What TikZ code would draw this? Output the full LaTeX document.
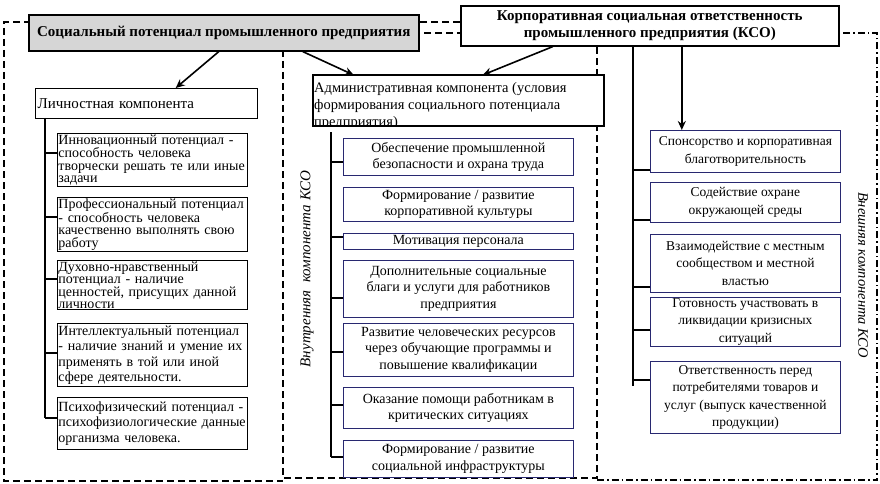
\documentclass[tikz,border=0pt]{standalone}
\usepackage{fontspec}
\setmainfont{Liberation Serif}
\usetikzlibrary{arrows.meta}
\definecolor{titlegray}{RGB}{214,214,214}
\definecolor{itemblue}{RGB}{40,40,112}
\newcommand\fsz[2]{\fontsize{#1}{#2}\selectfont}
\tikzset{
	titlebox/.style={draw,line width=1.6pt,anchor=north west,inner sep=1pt,align=center,font=\fsz{15}{16.5}\bfseries},
	compbox/.style={draw,line width=1.4pt,fill=white,anchor=north west,inner sep=2pt},
	leftitem/.style={draw,line width=.9pt,fill=white,anchor=north west,inner sep=1pt,text width=188,align=left,font=\fsz{14}{12.5}},
	initem/.style={draw=itemblue,line width=.8pt,fill=white,anchor=north west,inner sep=1pt,align=center,minimum width=230,font=\fsz{14}{16.5}},
	exitem/.style={initem,minimum width=190,font=\fsz{13.5}{17.5}},
	branch/.style={line width=1.4pt},
	arr/.style={line width=1.6pt,-{Stealth[length=9pt,width=8pt]}},
	framedash/.style={line width=1.3pt,dash pattern=on 7pt off 4pt},
	framedot/.style={line width=1.3pt,dash pattern=on 7pt off 3pt on 1.5pt off 3pt},
}
\begin{document}
\begin{tikzpicture}[x=1pt,y=-1pt]
	\useasboundingbox (0,0) rectangle (880,484);
	% frames of the three components
	\draw[framedash] (460,22) -- (4,22) -- (4,481) -- (283,481);
	\draw[framedash] (283,50) -- (283,478) -- (597,478) -- (597,33) -- (418,33);
	\draw[framedot] (597,480) -- (877,480) -- (877,33) -- (838,33);
	% titles
	\node[titlebox,fill=titlegray,minimum width=390,minimum height=36] (sp) at (28,14) {Социальный потенциал промышленного предприятия};
	\node[titlebox,fill=white,minimum width=378,minimum height=40] (kso) at (460,5) {Корпоративная социальная ответственность\\промышленного предприятия (КСО)};
	% personal component
	\node[compbox,minimum height=30,text width=218,align=left,font=\fsz{15}{16}] (lich) at (35,88) {Личностная компонента};
	\node[leftitem,minimum height=52] (l1) at (57,133) {Инновационный потенциал -\\способность человека\\творчески решать те или иные\\задачи};
	\node[leftitem,minimum height=50] (l2) at (57,197) {Профессиональный потенциал\\- способность человека\\качественно выполнять свою\\работу};
	\node[leftitem,minimum height=48] (l3) at (57,260) {Духовно-нравственный\\потенциал - наличие\\ценностей, присущих данной\\личности};
	\node[leftitem,minimum height=63,font=\fsz{14}{15.5}] (l4) at (57,323) {Интеллектуальный потенциал\\- наличие знаний и умение их\\применять в той или иной\\сфере деятельности.};
	\node[leftitem,minimum height=52,font=\fsz{14}{15.5}] (l5) at (57,397) {Психофизический потенциал -\\психофизиологические данные\\организма человека.};
	\coordinate (lt) at (45,118);
	\draw[branch] (lt) -- (lt |- 0,418);
	\foreach \n/\y in {l1/153,l2/217,l3/279,l4/353,l5/418}
		\draw[branch] (\n.west |- 0,\y) -- (lt |- 0,\y);
	% administrative component
	\node[compbox,minimum width=290,minimum height=50] (adm) at (313,75) {};
	\begin{scope}
		\clip (adm.north west) rectangle (adm.south east);
		\node[anchor=north west,inner sep=0pt,align=left,font=\fsz{14.5}{17}] (admtext) at (314,82) {Административная компонента (условия\\формирования социального потенциала\\предприятия)};
	\end{scope}
	\draw[line width=1.4pt] (adm.north west) rectangle (adm.south east);
	\node[initem,minimum height=37] (m1) at (343,138) {Обеспечение промышленной\\безопасности и охрана труда};
	\node[initem,minimum height=34] (m2) at (343,187) {Формирование / развитие\\корпоративной культуры};
	\node[initem,minimum height=16,inner ysep=0pt] (m3) at (343,233) {Мотивация персонала};
	\node[initem,minimum height=57] (m4) at (343,260) {Дополнительные социальные\\благи и услуги для работников\\предприятия};
	\node[initem,minimum height=53] (m5) at (343,323) {Развитие человеческих ресурсов\\через обучающие программы и\\повышение квалификации};
	\node[initem,minimum height=41] (m6) at (343,387) {Оказание помощи работникам в\\критических ситуациях};
	\node[initem,minimum height=37] (m7) at (343,440) {Формирование / развитие\\социальной инфраструктуры};
	\coordinate (mt) at (331,132);
	\draw[branch] (mt) -- (mt |- 0,457);
	\foreach \n/\y in {m1/162,m3/237,m4/298,m5/352,m6/405,m7/457}
		\draw[branch] (\n.west |- 0,\y) -- (mt |- 0,\y);
	\node[rotate=90,font=\fsz{15}{16}\itshape] (inlbl) at (307,269) {Внутренняя\ \ компонента КСО};
	% external component
	\node[exitem,minimum height=42] (r1) at (650,130) {Спонсорство и корпоративная\\благотворительность};
	\node[exitem,minimum height=40] (r2) at (650,182) {Содействие охране\\окружающей среды};
	\node[exitem,minimum height=58] (r3) at (650,234) {Взаимодействие с местным\\сообществом и местной\\властью};
	\node[exitem,minimum height=49] (r4) at (650,297) {Готовность участвовать в\\ликвидации кризисных\\ситуаций};
	\node[exitem,minimum height=72] (r5) at (650,361) {Ответственность перед\\потребителями товаров и\\услуг (выпуск качественной\\продукции)};
	\coordinate (rt) at ([xshift=-17pt]kso.south);
	\draw[branch] (rt) -- (rt |- 0,386);
	\foreach \n/\y in {r1/170,r2/220,r3/287,r4/330,r5/380}
		\draw[branch] (\n.west |- 0,\y) -- (rt |- 0,\y);
	\node[rotate=-90,font=\fsz{14.5}{16}\itshape] (exlbl) at (863,275) {Внешняя компонента КСО};
	% arrows
	\draw[arr] ([xshift=-5pt]sp.south) -- ([xshift=29pt]lich.north);
	\draw[arr] ([xshift=79pt]sp.south) -- ([xshift=-105pt]adm.north);
	\draw[arr] ([xshift=-97pt]kso.south) -- ([xshift=24pt]adm.north);
	\draw[arr] ([xshift=32pt]kso.south) -- ([xshift=32pt]kso.south |- r1.north);
\end{tikzpicture}
\end{document}
